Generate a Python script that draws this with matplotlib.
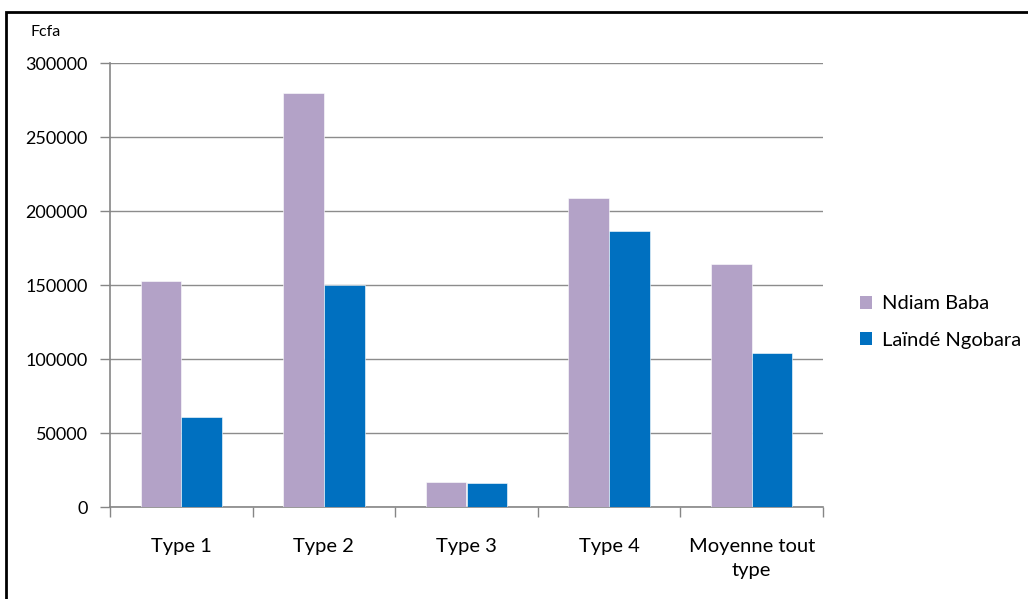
import matplotlib
matplotlib.use('Agg')
import matplotlib.pyplot as plt
from matplotlib.patches import Rectangle, Patch
import numpy as np

categories = ['Type 1', 'Type 2', 'Type 3', 'Type 4', 'Moyenne tout\ntype']
ndiam_baba = [152500, 280000, 17000, 209000, 164500]
lainde_ngobara = [61000, 150000, 16500, 186500, 104000]
series_names = ['Ndiam Baba', 'Laïndé Ngobara']
colors = ['#B3A2C7', '#0070C0']
yticks = [0, 50000, 100000, 150000, 200000, 250000, 300000]

plt.rcParams['font.family'] = ['Lato', 'DejaVu Sans']
W, H = 1028, 599
fig = plt.figure(figsize=(W / 100, H / 100), dpi=100)

# cadre noir autour du graphique
fig.patches.append(Rectangle((6 / W, -0.05), 1.2, 1 - 12 / H + 0.05, transform=fig.transFigure,
                             fill=False, edgecolor='black', linewidth=2))

ax = fig.add_axes([110 / W, 92 / H, 713 / W, 444 / H])
x = np.arange(len(categories))
w = 0.285
ax.bar(x - w / 2, ndiam_baba, w, color=colors[0], edgecolor='white', linewidth=0.4, zorder=3)
ax.bar(x + w / 2, lainde_ngobara, w, color=colors[1], edgecolor='white', linewidth=0.4, zorder=3)

ax.set_xlim(-0.5, len(categories) - 0.5)
ax.set_ylim(0, 300000)
ax.set_yticks(yticks)
ax.set_yticklabels([str(v) for v in yticks], fontsize=13)
ax.yaxis.grid(True, color='#8c8c8c', linewidth=1)
ax.set_axisbelow(True)

ax.set_xticks(x)
ax.set_xticklabels(categories, fontsize=14.5, linespacing=1.5)
ax.set_xticks(np.arange(-0.5, len(categories)), minor=True)
ax.tick_params(axis='x', which='major', length=0, pad=22)
ax.tick_params(axis='x', which='minor', length=7, color='#868686', width=1)
ax.tick_params(axis='y', length=7, color='#868686', width=1, pad=9)

for s in ['top', 'right']:
    ax.spines[s].set_visible(False)
for s in ['left', 'bottom']:
    ax.spines[s].set_color('#868686')
    ax.spines[s].set_linewidth(1.2)

fig.text(30 / W, 1 - 32 / H, 'Fcfa', fontsize=11.5, va='center', ha='left')

handles = [Patch(facecolor=c) for c in colors]
fig.legend(handles, series_names, loc='center left', bbox_to_anchor=(842 / W, 1 - 322 / H),
           frameon=False, fontsize=14.5, handlelength=0.6, handleheight=0.6,
           handletextpad=0.5, labelspacing=0.95)

fig.savefig('out.png', dpi=100)
